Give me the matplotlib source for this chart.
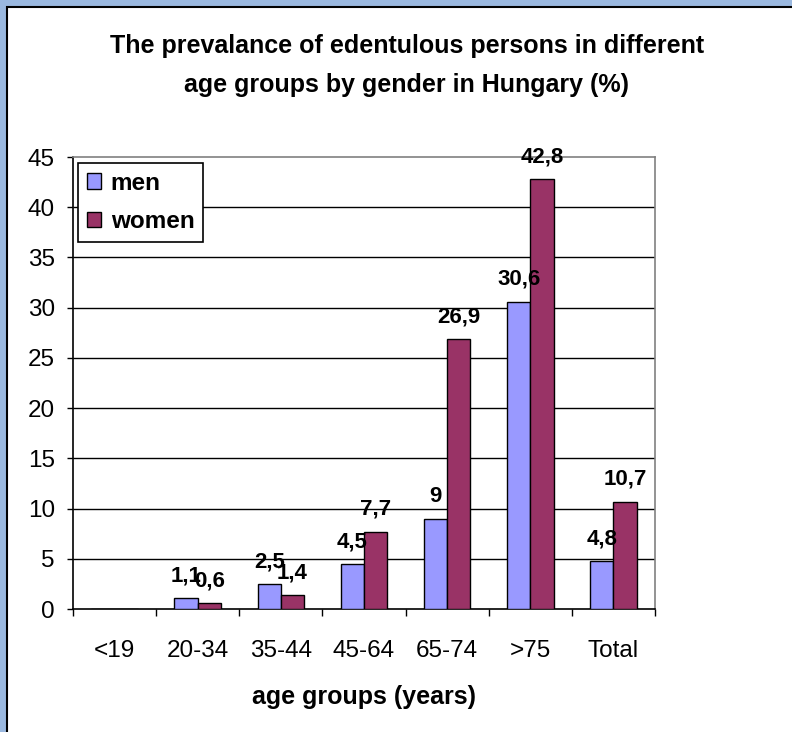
import matplotlib
matplotlib.use("Agg")
from matplotlib import pyplot as plt
from matplotlib.patches import Rectangle
import numpy as np

categories = ["<19", "20-34", "35-44", "45-64", "65-74", ">75", "Total"]
men = [0, 1.1, 2.5, 4.5, 9, 30.6, 4.8]
women = [0, 0.6, 1.4, 7.7, 26.9, 42.8, 10.7]
men_labels = ["", "1,1", "2,5", "4,5", "9", "30,6", "4,8"]
women_labels = ["", "0,6", "1,4", "7,7", "26,9", "42,8", "10,7"]
yticks = [0, 5, 10, 15, 20, 25, 30, 35, 40, 45]

plt.rcParams["font.family"] = ["Liberation Sans", "DejaVu Sans"]

W, H = 792, 732
fig = plt.figure(figsize=(W / 100, H / 100), dpi=100, facecolor="#9ab8df")

# white chart panel with black frame
fig.patches.append(Rectangle((7 / W, -0.01), 1.0, 1 - 7 / H + 0.01, transform=fig.transFigure,
                             facecolor="white", edgecolor="black", linewidth=1.5, zorder=-1))

ax = fig.add_axes([73 / W, 1 - 609 / H, (655 - 73) / W, (609 - 157) / H])
ax.set_zorder(2)
ax.set_facecolor("white")

x = np.arange(len(categories))
bw = 0.28
ax.bar(x - bw / 2, men, bw, color="#9999FF", edgecolor="black", linewidth=1.0, label="men", zorder=3)
ax.bar(x + bw / 2, women, bw, color="#993366", edgecolor="black", linewidth=1.0, label="women", zorder=3)

for xi, v, t in zip(x, men, men_labels):
    if t:
        ax.annotate(t, (xi - bw / 2, v), xytext=(0, 12), textcoords="offset points",
                    ha="center", va="baseline", fontsize=16, fontweight="bold", zorder=5)
for xi, v, t in zip(x, women, women_labels):
    if t:
        ax.annotate(t, (xi + bw / 2, v), xytext=(0, 12), textcoords="offset points",
                    ha="center", va="baseline", fontsize=16, fontweight="bold", zorder=5)

ax.set_xlim(-0.5, len(categories) - 0.5)
ax.set_ylim(0, 45)
ax.hlines(yticks[1:-1], -0.5, len(categories) - 0.5, colors="black", linewidth=1.0, zorder=1)

ax.set_yticks(yticks)
ax.tick_params(axis="y", direction="out", length=4.5, width=1.0, pad=8.5, labelsize=17.5)
ax.set_xticks(x)
ax.set_xticklabels(categories)
ax.set_xticks(np.arange(-0.5, len(categories)), minor=True)
ax.tick_params(axis="x", which="major", length=0, pad=22, labelsize=17.5)
ax.tick_params(axis="x", which="minor", direction="out", length=5, width=1.0)

for s in ["left", "bottom"]:
    ax.spines[s].set_color("black")
    ax.spines[s].set_linewidth(1.2)
for s in ["top", "right"]:
    ax.spines[s].set_color("#808080")
    ax.spines[s].set_linewidth(1.2)

leg = ax.legend(loc="upper left", bbox_to_anchor=(5 / 582, 1 - 6 / 452), borderaxespad=0,
                prop={"weight": "bold", "size": 17.5}, fancybox=False, framealpha=1,
                edgecolor="black", handlelength=0.6, handleheight=0.6, handletextpad=0.4,
                labelspacing=0.65, borderpad=0.35)
leg.get_frame().set_linewidth(1.2)

fig.text(407 / W, 1 - 46 / H, "The prevalance of edentulous persons in different",
         ha="center", va="center", fontsize=18, fontweight="bold")
fig.text(407 / W, 1 - 85 / H, "age groups by gender in Hungary (%)",
         ha="center", va="center", fontsize=18, fontweight="bold")
fig.text(364 / W, 1 - 697 / H, "age groups (years)",
         ha="center", va="center", fontsize=18, fontweight="bold")

fig.savefig("out.png", dpi=100, facecolor=fig.get_facecolor())
